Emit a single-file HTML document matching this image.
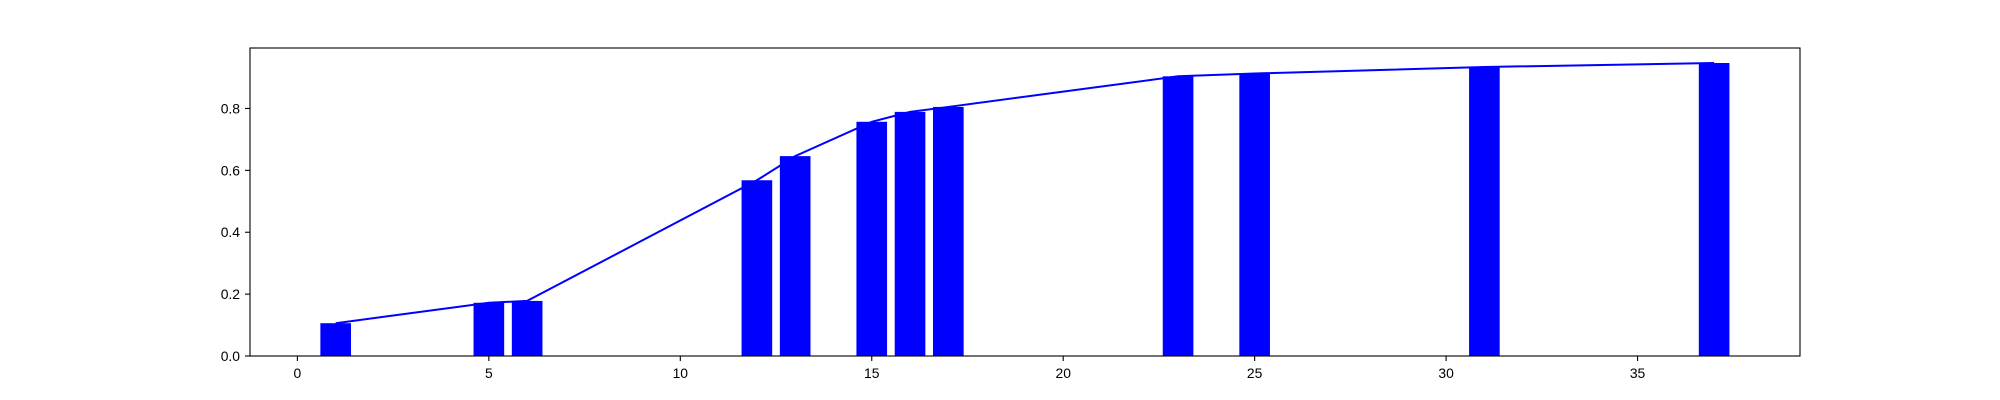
<!DOCTYPE html>
<html><head><meta charset="utf-8"><style>
html,body{margin:0;padding:0;background:#fff;}
svg{display:block;font-family:"Liberation Sans","DejaVu Sans",sans-serif;}
</style></head><body>
<svg id="chart" width="2000" height="400" viewBox="0 0 2000 400">
<rect x="0" y="0" width="2000" height="400" fill="#fff"/>
<g id="bars"></g>
<g id="line"></g>
<g id="xticks"></g>
<g id="yticks"></g>
<rect x="250" y="48" width="1550" height="308" fill="none" stroke="#000" stroke-width="1.1"/>
</svg>
<script>
const categories = [1, 5, 6, 12, 13, 15, 16, 17, 23, 25, 31, 37];
const values = [0.106, 0.172, 0.178, 0.568, 0.646, 0.757, 0.789, 0.805, 0.904, 0.913, 0.934, 0.947];
const xTickLabels = [0, 5, 10, 15, 20, 25, 30, 35];
const yTickLabels = [0.0, 0.2, 0.4, 0.6, 0.8];

const NS = "http://www.w3.org/2000/svg";
const X0 = 297.4, XS = 38.29, Y0 = 356, YS = 309.4;
const xScale = v => X0 + v * XS;
const yScale = v => Y0 - v * YS;
function mk(tag, attrs, parent) {
  const el = document.createElementNS(NS, tag);
  for (const k in attrs) el.setAttribute(k, attrs[k]);
  parent.appendChild(el);
  return el;
}
const bars = document.getElementById('bars');
categories.forEach((c, i) => {
  const r = mk('rect', {x: xScale(c - 0.4), y: yScale(values[i]), width: 0.8 * XS, height: Y0 - yScale(values[i]), fill: '#0000ff'}, bars);
  
  
});
const lineG = document.getElementById('line');
const pts = categories.map((c, i) => xScale(c) + ',' + yScale(values[i])).join(' ');
const pl = mk('polyline', {points: pts, fill: 'none', stroke: '#0000ff', 'stroke-width': 2}, lineG);



const xg = document.getElementById('xticks');
xTickLabels.forEach(t => {
  const x = xScale(t);
  const l = mk('line', {x1: x, x2: x, y1: 356, y2: 361, stroke: '#000', 'stroke-width': 1.1}, xg);
  
  
  const tx = mk('text', {x: x, y: 378, 'text-anchor': 'middle', 'font-size': 13.9}, xg);
  tx.textContent = t;
  
  
});
const yg = document.getElementById('yticks');
yTickLabels.forEach(t => {
  const y = yScale(t);
  const l = mk('line', {x1: 245, x2: 250, y1: y, y2: y, stroke: '#000', 'stroke-width': 1.1}, yg);
  
  
  const tx = mk('text', {x: 240, y: y + 5, 'text-anchor': 'end', 'font-size': 13.9}, yg);
  tx.textContent = t.toFixed(1);
  
  
});
</script>
</body></html>
